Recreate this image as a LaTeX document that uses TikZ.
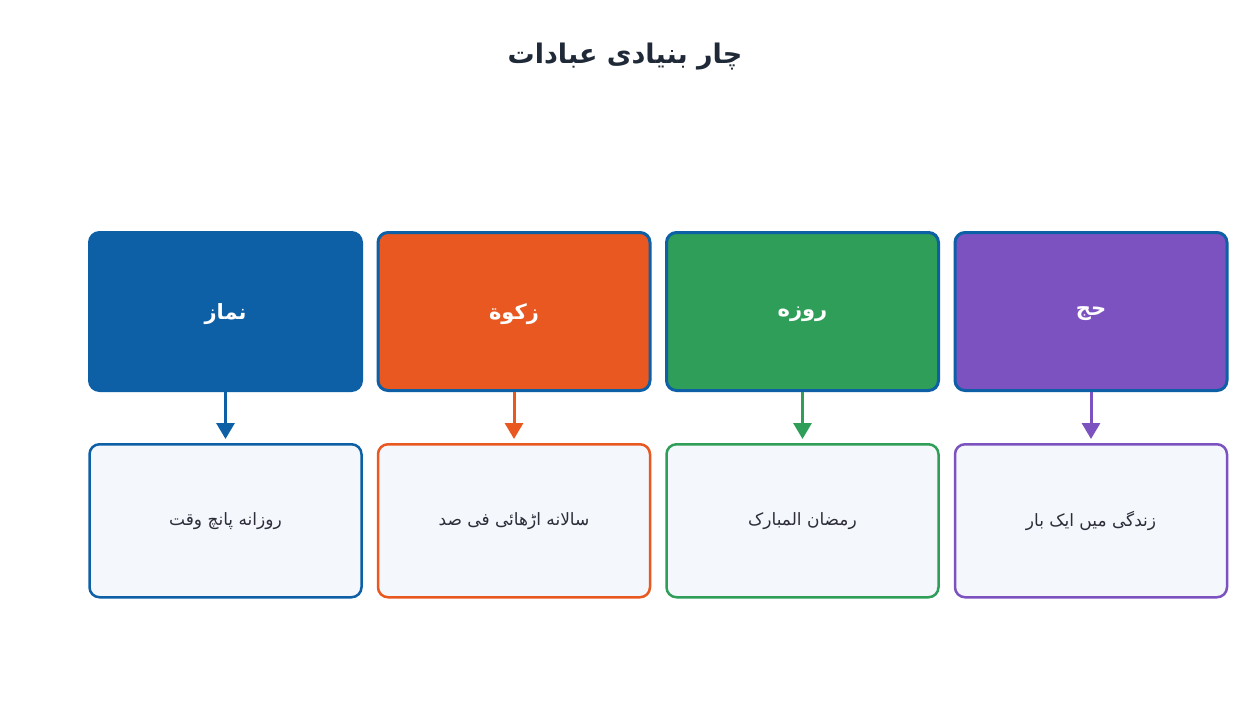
\documentclass[tikz,border=0pt]{standalone}
\usepackage{fontspec}
\setmainfont{DejaVu Sans}
\newfontfamily\urdu[Script=Arabic]{DejaVu Sans}
\TeXXeTstate=1
\usetikzlibrary{arrows.meta,positioning}
\definecolor{nmzblue}{HTML}{0D5FA6}
\definecolor{zktorange}{HTML}{E85820}
\definecolor{rozgreen}{HTML}{2E9E58}
\definecolor{hajpurple}{HTML}{7B52C0}
\definecolor{notefill}{HTML}{F4F7FC}
\definecolor{titleink}{HTML}{1F2937}
\definecolor{noteink}{HTML}{2D2D3A}
\tikzset{
  >={Triangle[length=16pt,width=18pt]},
  ibadah/.style={draw=nmzblue,fill=#1,line width=3pt,rounded corners=10pt,
    minimum width=272pt,minimum height=158pt,text=white,text depth=0pt,
    font=\urdu\bfseries\fontsize{21}{25}\selectfont},
  note/.style={draw=#1,fill=notefill,line width=2.5pt,rounded corners=10pt,
    minimum width=272pt,minimum height=153pt,text=noteink,
    font=\urdu\fontsize{17}{21}\selectfont},
  arrow/.style={->,line width=3pt,draw=#1,fill=#1,shorten >=4pt},
}
\begin{document}
\begin{tikzpicture}
			\useasboundingbox[fill=white] (0pt,0pt) rectangle (1250pt,-723pt);
			\node[text=titleink,font=\urdu\bfseries\fontsize{27}{31}\selectfont] (title) at (625pt,-57pt) {\beginR چار بنیادی عبادات\endR};
			\node[ibadah=nmzblue] (namaz) at (225.5pt,-311.5pt) {\beginR نماز\endR};
			\node[ibadah=zktorange,right=13.5pt of namaz] (zakat) {\beginR زکوة\endR};
			\node[ibadah=rozgreen,right=13.5pt of zakat] (roza) {\beginR روزه\endR};
			\node[ibadah=hajpurple,right=13.5pt of roza] (hajj) {\beginR حج\endR};
			\node[note=nmzblue,below=51pt of namaz] (namazn) {\beginR روزانه پانچ وقت\endR};
			\node[note=zktorange,below=51pt of zakat] (zakatn) {\beginR سالانه اڑھائی فی صد\endR};
			\node[note=rozgreen,below=51pt of roza] (rozan) {\beginR رمضان المبارک\endR};
			\node[note=hajpurple,below=51pt of hajj] (hajjn) {\beginR زندگی میں ایک بار\endR};
			\draw[arrow=nmzblue] (namaz) -- (namazn);
			\draw[arrow=zktorange] (zakat) -- (zakatn);
			\draw[arrow=rozgreen] (roza) -- (rozan);
			\draw[arrow=hajpurple] (hajj) -- (hajjn);
		\end{tikzpicture}
\end{document}
